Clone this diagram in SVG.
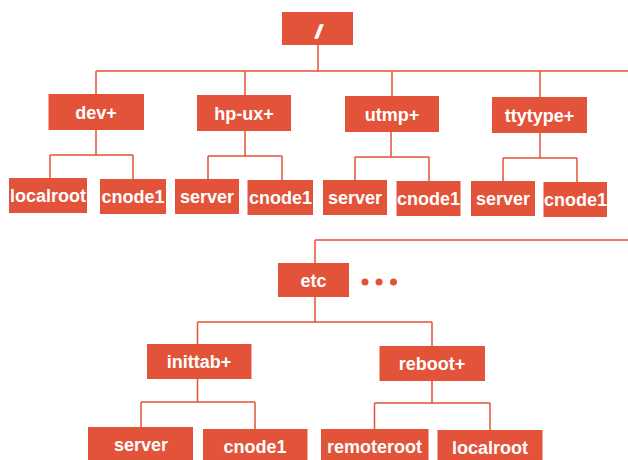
<svg xmlns="http://www.w3.org/2000/svg" width="628" height="460" viewBox="0 0 628 460">
  <style>
    .box { fill: #E3533A; }
    .lbl { fill: #ffffff; font-family: "Liberation Sans", Arial, sans-serif; font-weight: bold; font-size: 18px; text-anchor: middle; }
    .wire { fill: none; stroke: #E3533A; stroke-width: 1.5; }
    .dot { fill: #E3533A; }
  </style>
  <rect width="628" height="460" fill="#ffffff"/>

  <!-- connectors -->
  <g id="connectors" class="wire">
    <!-- root to first level -->
    <path d="M318 45 V71 M96 71 H628 M96 71 V94 M245 71 V95 M392 71 V96 M540 71 V97"/>
    <!-- dev+ -->
    <path d="M96 130 V155 M50 155 H133 M50 155 V178 M133 155 V179"/>
    <!-- hp-ux+ -->
    <path d="M245 131 V156 M208 156 H282 M208 156 V179 M282 156 V180"/>
    <!-- utmp+ -->
    <path d="M391 132 V157 M355 157 H429 M355 157 V180 M429 157 V181"/>
    <!-- ttytype+ -->
    <path d="M540 133 V158 M503 158 H577 M503 158 V181 M577 158 V182"/>
    <!-- continuation to etc -->
    <path d="M315 240 H628 M315 240 V263"/>
    <!-- etc -->
    <path d="M315 297 V322 M197.5 322 H432 M197.5 322 V344 M432 322 V346"/>
    <!-- inittab+ -->
    <path d="M197.5 379 V402 M141 402 H255 M141 402 V427 M255 402 V429"/>
    <!-- reboot+ -->
    <path d="M432 381 V403 M374.5 403 H490 M374.5 403 V429 M490 403 V430"/>
  </g>

  <!-- root -->
  <g id="root">
    <rect class="box" x="282" y="12" width="71" height="33"/>
    <text class="lbl" x="318.5" y="38" font-size="26" font-style="italic" stroke="#ffffff" stroke-width="1.6" stroke-linecap="round">/</text>
  </g>

  <!-- first level -->
  <g id="dev">
    <rect class="box" x="48.5" y="94" width="95.5" height="36"/>
    <text class="lbl" x="96" y="118.5">dev+</text>
  </g>
  <g id="hp-ux">
    <rect class="box" x="197" y="95" width="94" height="36"/>
    <text class="lbl" x="244" y="119.5">hp-ux+</text>
  </g>
  <g id="utmp">
    <rect class="box" x="345" y="96" width="94" height="36"/>
    <text class="lbl" x="392" y="120.5">utmp+</text>
  </g>
  <g id="ttytype">
    <rect class="box" x="492" y="97" width="95" height="36"/>
    <text class="lbl" x="539.5" y="121.5">ttytype+</text>
  </g>

  <!-- second level -->
  <g id="dev-localroot">
    <rect class="box" x="9" y="178" width="78" height="35"/>
    <text class="lbl" x="48" y="202">localroot</text>
  </g>
  <g id="dev-cnode1">
    <rect class="box" x="100" y="179" width="66" height="35"/>
    <text class="lbl" x="133" y="203">cnode1</text>
  </g>
  <g id="hpux-server">
    <rect class="box" x="175" y="179" width="64" height="35"/>
    <text class="lbl" x="207" y="203">server</text>
  </g>
  <g id="hpux-cnode1">
    <rect class="box" x="247.5" y="180" width="65.5" height="35"/>
    <text class="lbl" x="280.5" y="204">cnode1</text>
  </g>
  <g id="utmp-server">
    <rect class="box" x="323" y="180" width="64" height="35"/>
    <text class="lbl" x="355" y="204">server</text>
  </g>
  <g id="utmp-cnode1">
    <rect class="box" x="396.5" y="181" width="64" height="35"/>
    <text class="lbl" x="428.5" y="205">cnode1</text>
  </g>
  <g id="ttytype-server">
    <rect class="box" x="471" y="181" width="64" height="35"/>
    <text class="lbl" x="503" y="205">server</text>
  </g>
  <g id="ttytype-cnode1">
    <rect class="box" x="543.5" y="182" width="63.5" height="35"/>
    <text class="lbl" x="575.5" y="206">cnode1</text>
  </g>

  <!-- etc branch -->
  <g id="etc">
    <rect class="box" x="278" y="263" width="71" height="34"/>
    <text class="lbl" x="313.5" y="286.5">etc</text>
  </g>
  <g id="ellipsis">
    <circle class="dot" cx="365" cy="282" r="3.5"/>
    <circle class="dot" cx="379" cy="282" r="3.5"/>
    <circle class="dot" cx="393.5" cy="282" r="3.5"/>
  </g>
  <g id="inittab">
    <rect class="box" x="147" y="344" width="104.5" height="35"/>
    <text class="lbl" x="199" y="368">inittab+</text>
  </g>
  <g id="reboot">
    <rect class="box" x="379.5" y="346" width="105.5" height="35"/>
    <text class="lbl" x="432" y="370">reboot+</text>
  </g>
  <g id="inittab-server">
    <rect class="box" x="88" y="427" width="105" height="36"/>
    <text class="lbl" x="141" y="451">server</text>
  </g>
  <g id="inittab-cnode1">
    <rect class="box" x="203" y="429" width="104.5" height="36"/>
    <text class="lbl" x="255" y="453">cnode1</text>
  </g>
  <g id="reboot-remoteroot">
    <rect class="box" x="321" y="429" width="107.5" height="36"/>
    <text class="lbl" x="374.5" y="453">remoteroot</text>
  </g>
  <g id="reboot-localroot">
    <rect class="box" x="437.5" y="430" width="105" height="36"/>
    <text class="lbl" x="490" y="454">localroot</text>
  </g>
</svg>
